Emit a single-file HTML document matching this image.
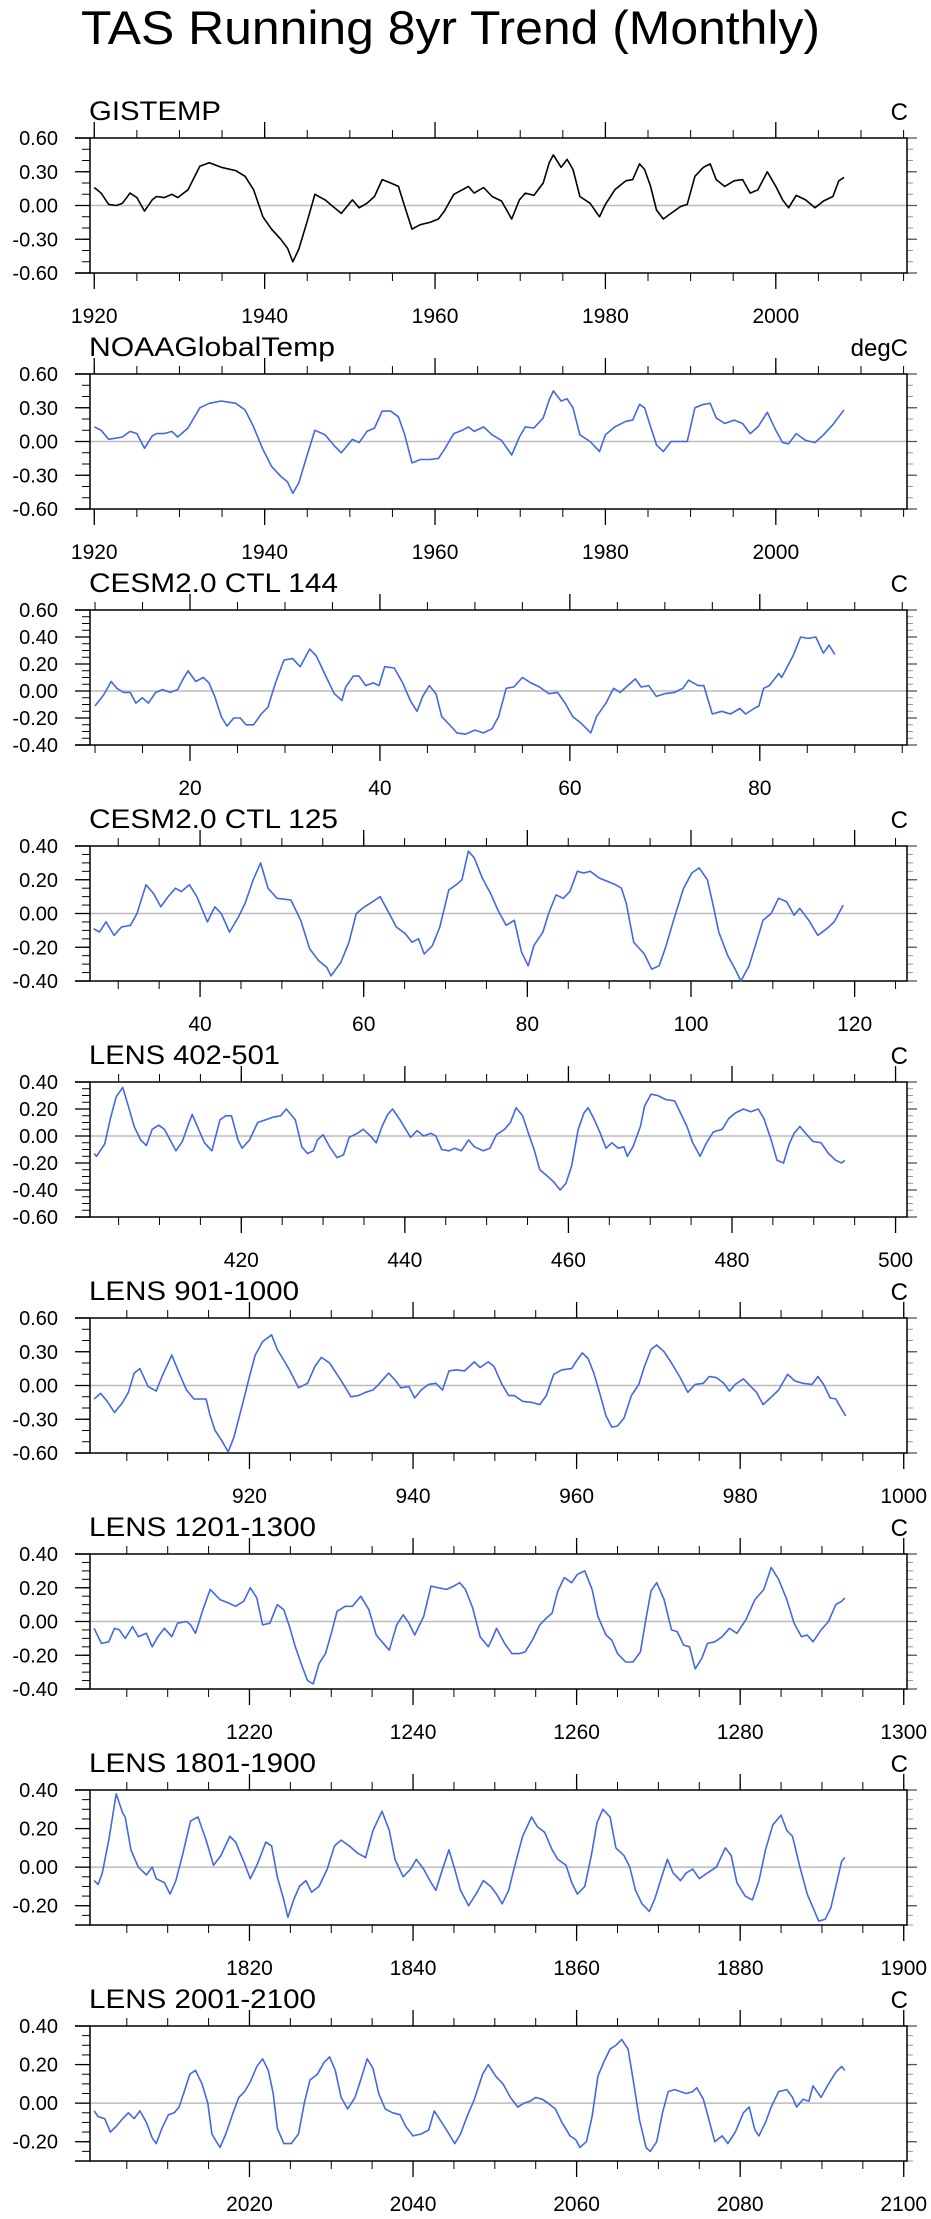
<!DOCTYPE html>
<html><head><meta charset="utf-8">
<style>
html,body{margin:0;padding:0;background:#fff;}
svg{display:block;font-family:"Liberation Sans",Arial,sans-serif;}
</style></head>
<body>
<svg id="chart" width="931" height="2219" viewBox="0 0 931 2219" xmlns="http://www.w3.org/2000/svg">
<text x="81" y="44" font-size="47" textLength="739" lengthAdjust="spacingAndGlyphs">TAS Running 8yr Trend (Monthly)</text>
</svg>
<script>
// ---------- data ----------
const gisX=[1920,1920.8,1921.7,1922.6,1923.3,1924.2,1925,1925.9,1926.8,1927.3,1928.2,1929.1,1929.8,1931,1932.4,1933.5,1934.9,1936.6,1937.7,1938.7,1939.8,1940.8,1941.9,1942.7,1943.3,1944,1945,1945.9,1947.1,1948.2,1949,1950.3,1951.1,1952,1952.9,1953.8,1954.8,1955.7,1956.4,1957.3,1958.3,1959.4,1960.4,1961.1,1962.2,1963.2,1963.9,1964.6,1965.7,1966.7,1967.8,1969,1969.9,1970.6,1971.6,1972.7,1973.4,1973.9,1974.8,1975.5,1976.2,1977,1978.2,1979.3,1980,1981.1,1982.4,1983.2,1984,1984.6,1985.3,1986,1986.8,1987.7,1988.8,1989.6,1990.5,1991.5,1992.3,1993,1994,1995.1,1996.1,1997,1997.9,1999,2000,2000.8,2001.5,2002.4,2003.5,2004.6,2005.6,2006.7,2007.4,2008];
const gisY=[0.16,0.11,0.01,0.0,0.02,0.11,0.07,-0.05,0.05,0.08,0.07,0.10,0.07,0.14,0.35,0.38,0.34,0.31,0.26,0.14,-0.10,-0.21,-0.30,-0.38,-0.50,-0.39,-0.14,0.10,0.05,-0.02,-0.07,0.05,-0.02,0.02,0.08,0.23,0.20,0.17,0.0,-0.21,-0.17,-0.15,-0.12,-0.05,0.10,0.14,0.17,0.11,0.16,0.08,0.04,-0.12,0.05,0.11,0.09,0.20,0.38,0.45,0.34,0.41,0.32,0.08,0.02,-0.10,0.01,0.14,0.22,0.23,0.37,0.32,0.17,-0.04,-0.12,-0.07,-0.01,0.01,0.26,0.34,0.37,0.23,0.17,0.22,0.23,0.11,0.14,0.30,0.17,0.05,-0.02,0.09,0.05,-0.02,0.04,0.08,0.22,0.25];
const noaaX=gisX;
const noaaY=[0.13,0.10,0.02,0.03,0.04,0.09,0.07,-0.06,0.05,0.07,0.07,0.09,0.04,0.12,0.30,0.34,0.36,0.34,0.28,0.13,-0.07,-0.22,-0.31,-0.36,-0.46,-0.37,-0.12,0.10,0.06,-0.04,-0.10,0.02,-0.01,0.09,0.12,0.27,0.27,0.22,0.07,-0.19,-0.16,-0.16,-0.15,-0.07,0.07,0.10,0.13,0.09,0.13,0.06,0.01,-0.12,0.04,0.13,0.12,0.21,0.37,0.45,0.36,0.38,0.30,0.06,0.0,-0.09,0.06,0.13,0.18,0.19,0.33,0.30,0.13,-0.03,-0.09,0.0,0.0,0.0,0.30,0.33,0.34,0.21,0.16,0.19,0.16,0.07,0.13,0.26,0.10,-0.01,-0.02,0.07,0.01,-0.01,0.06,0.15,0.22,0.28];
const c144X=[10,10.9,11.7,12.3,13,13.7,14.3,15,15.6,16.4,17.1,17.9,18.7,19.2,19.8,20.6,21.4,22,22.6,23.3,23.9,24.6,25.3,25.9,26.7,27.5,28.2,29,29.9,30.8,31.6,32.6,33.3,34.3,35.2,36,36.4,37.2,37.8,38.5,39.3,39.9,40.5,41.5,42.4,43.2,43.9,44.5,45.2,45.9,46.5,47.2,48.1,49,50,50.9,51.8,52.5,53.3,54.1,55,55.9,56.8,57.8,58.7,59.5,60.3,61.2,62.2,62.8,63.8,64.6,65.3,66.1,66.9,67.5,68.3,69.1,70,71,71.9,72.5,73.5,74.1,75,76,76.9,77.9,78.5,79.4,79.9,80.4,81,82,82.3,82.9,83.5,84.3,85.1,85.9,86.7,87.3,87.9];
const c144Y=[-0.11,-0.03,0.07,0.02,-0.01,-0.01,-0.09,-0.05,-0.09,-0.01,0.01,-0.01,0.01,0.08,0.15,0.07,0.10,0.06,-0.04,-0.19,-0.26,-0.20,-0.20,-0.25,-0.25,-0.17,-0.12,0.06,0.23,0.24,0.18,0.31,0.26,0.11,-0.02,-0.07,0.03,0.11,0.11,0.04,0.06,0.04,0.18,0.17,0.06,-0.07,-0.15,-0.04,0.04,-0.02,-0.19,-0.24,-0.31,-0.32,-0.29,-0.31,-0.28,-0.19,0.02,0.03,0.10,0.06,0.03,-0.02,-0.01,-0.09,-0.19,-0.24,-0.31,-0.19,-0.09,0.02,-0.01,0.04,0.09,0.03,0.04,-0.04,-0.02,-0.01,0.02,0.08,0.04,0.04,-0.17,-0.15,-0.17,-0.13,-0.17,-0.13,-0.11,0.02,0.04,0.13,0.10,0.18,0.26,0.40,0.39,0.40,0.28,0.34,0.27];
const c125X=[27,27.7,28.5,29.5,30.4,31.5,32.3,33.4,34.3,35.2,36.1,37,37.7,38.7,39.6,40.9,41.8,42.6,43.6,44.7,45.5,46.5,47.4,48.3,49.4,51.1,52.3,53.4,54.5,55.5,56,57.2,58.2,59.1,60.1,61.1,62,62.9,64,65.1,65.9,66.7,67.4,68.4,69.3,70.4,71.3,72,72.8,73.5,74.5,75.5,76.4,77.4,78.4,79.3,80.1,80.8,81.9,82.6,83.5,84.4,85.2,86.1,86.9,87.7,88.8,89.8,90.8,91.5,92.1,93,94.3,95.2,96.1,96.9,98,99.1,100.1,101,102,102.7,103.4,104.5,105.4,106.1,107.1,108,108.8,109.8,110.7,111.7,112.6,113.3,114.4,115.5,116.6,117.5,118.6];
const c125Y=[-0.09,-0.11,-0.05,-0.13,-0.08,-0.07,0.0,0.17,0.12,0.04,0.10,0.15,0.13,0.17,0.10,-0.05,0.04,0.0,-0.11,-0.02,0.06,0.20,0.30,0.15,0.09,0.08,-0.04,-0.21,-0.28,-0.32,-0.37,-0.29,-0.17,0.0,0.04,0.07,0.10,0.02,-0.08,-0.12,-0.17,-0.15,-0.24,-0.19,-0.08,0.14,0.17,0.20,0.37,0.33,0.21,0.12,0.02,-0.07,-0.04,-0.23,-0.31,-0.19,-0.11,0.0,0.11,0.09,0.13,0.25,0.24,0.25,0.21,0.19,0.17,0.15,0.06,-0.17,-0.24,-0.33,-0.31,-0.20,-0.02,0.15,0.24,0.27,0.20,0.05,-0.11,-0.25,-0.33,-0.40,-0.31,-0.17,-0.04,0.0,0.09,0.07,-0.01,0.03,-0.04,-0.13,-0.09,-0.05,0.05];
const l400X=[402,402.3,403.3,404,404.7,405.5,406.2,406.9,407.7,408.4,409.1,409.9,410.6,411.3,412,412.8,413.5,414,414.7,415.5,416.4,417.4,418.1,418.8,419.6,420.1,421,422,423,423.9,424.8,425.5,426.6,427.4,428.1,428.8,429.3,430,430.8,431.7,432.5,433.2,434.2,434.9,435.8,436.5,437.2,437.9,438.5,439.4,440.1,440.7,441.5,442.3,443.2,443.8,444.5,445.4,446.1,446.9,447.8,448.5,449.6,450.4,451.2,452.2,452.9,453.6,454.4,455.1,455.8,456.5,457.3,458.2,459,459.7,460.4,461.2,461.9,462.4,463.1,463.9,464.6,465.3,466.1,466.8,467.2,467.9,468.8,469.3,470.1,470.9,471.9,473,473.7,474.5,475.2,476.1,476.8,477.7,478.8,479.6,480.4,481.4,482.3,483.2,483.9,484.8,485.5,486.3,487,487.6,488.3,489,489.9,490.9,491.8,492.7,493.4,493.8];
const l400Y=[-0.13,-0.15,-0.06,0.13,0.29,0.36,0.22,0.07,-0.03,-0.07,0.05,0.08,0.05,-0.03,-0.11,-0.04,0.08,0.16,0.06,-0.05,-0.11,0.12,0.15,0.15,-0.03,-0.09,-0.03,0.10,0.12,0.14,0.15,0.20,0.12,-0.08,-0.13,-0.11,-0.03,0.01,-0.08,-0.16,-0.14,-0.01,0.02,0.05,0.0,-0.05,0.07,0.16,0.20,0.12,0.05,-0.01,0.04,0.0,0.02,0.0,-0.10,-0.11,-0.09,-0.11,-0.03,-0.08,-0.11,-0.09,0.01,0.05,0.10,0.21,0.15,0.02,-0.10,-0.25,-0.29,-0.34,-0.40,-0.35,-0.22,0.05,0.17,0.21,0.13,0.02,-0.09,-0.05,-0.09,-0.08,-0.15,-0.08,0.07,0.22,0.31,0.30,0.27,0.26,0.17,0.07,-0.05,-0.15,-0.06,0.03,0.05,0.13,0.17,0.20,0.18,0.20,0.13,-0.03,-0.18,-0.20,-0.06,0.02,0.07,0.02,-0.04,-0.05,-0.13,-0.18,-0.20,-0.18];
const l900X=[901,901.8,902.6,903.5,904.5,905.2,905.9,906.6,907.6,908.6,909.3,910.5,911.4,912.3,913.2,914.7,915.2,915.8,916.6,917.4,918.1,919.1,920,920.7,921.6,922.7,923.4,924.4,925.1,926,927.1,928,928.8,929.8,930.7,931.5,932.4,933.3,934.2,935.1,935.8,937,937.8,938.5,939.5,940.2,941,941.9,942.8,943.6,944.4,945.3,946.3,947.5,948.2,949.2,949.9,950.8,951.7,952.4,953.4,954.5,955.5,956.3,957.2,958.2,959.4,959.9,960.7,961.4,962.1,962.8,963.6,964.3,965,965.8,966.7,967.6,968.3,969.1,969.8,970.7,971.6,972.6,973.6,974.5,975.5,976.2,977.1,978,978.7,979.4,980.4,981.3,982,982.8,983.7,984.7,985.8,986.7,987.7,988.8,989.5,990.2,991,991.7,992.4,992.9];
const l900Y=[-0.12,-0.07,-0.14,-0.24,-0.15,-0.06,0.11,0.15,-0.01,-0.05,0.08,0.27,0.11,-0.04,-0.12,-0.12,-0.27,-0.40,-0.49,-0.59,-0.46,-0.18,0.08,0.27,0.39,0.45,0.32,0.20,0.11,-0.02,0.02,0.17,0.25,0.20,0.10,0.01,-0.10,-0.09,-0.06,-0.04,0.01,0.11,0.05,-0.02,-0.01,-0.11,-0.04,0.01,0.02,-0.04,0.13,0.14,0.13,0.21,0.16,0.21,0.17,0.02,-0.09,-0.09,-0.14,-0.15,-0.17,-0.09,0.10,0.14,0.15,0.21,0.29,0.24,0.11,-0.06,-0.27,-0.37,-0.36,-0.29,-0.09,0.01,0.17,0.32,0.36,0.30,0.20,0.08,-0.06,0.01,0.02,0.08,0.07,0.02,-0.05,0.01,0.06,-0.01,-0.06,-0.17,-0.11,-0.04,0.10,0.04,0.02,0.01,0.08,0.01,-0.11,-0.12,-0.21,-0.27];
const l1200X=[1201,1201.9,1202.8,1203.5,1204.1,1204.8,1205.7,1206.4,1207.4,1208.1,1208.8,1209.6,1210.5,1211.2,1212.3,1212.8,1213.4,1214.3,1215.2,1216.4,1217.4,1218.3,1219.3,1220.1,1220.9,1221.6,1222.5,1223.4,1224.2,1224.9,1225.6,1226.4,1227.1,1227.8,1228.5,1229.3,1230,1230.7,1231.7,1232.6,1233.6,1234.6,1235.5,1236.2,1237.1,1238,1238.8,1239.5,1240.2,1241.3,1242.2,1243.1,1244.1,1245,1245.7,1246.4,1247.3,1248.2,1249.2,1249.7,1250.2,1251.2,1252.1,1253,1253.7,1254.6,1255.5,1256.3,1257,1257.7,1258.5,1259.4,1260.1,1261,1261.9,1262.6,1263.6,1264.3,1265,1266,1266.9,1267.8,1268.5,1269.1,1269.8,1270.7,1271.6,1272.3,1273.1,1273.8,1274.5,1275.3,1276,1276.9,1277.8,1278.7,1279.6,1280.7,1281.8,1282.9,1283.8,1284.7,1285.7,1286.6,1287.5,1288.2,1288.9,1289.9,1290.8,1291.7,1292.4,1292.8];
const l1200Y=[-0.04,-0.13,-0.12,-0.04,-0.05,-0.10,-0.03,-0.09,-0.07,-0.15,-0.09,-0.04,-0.09,-0.01,0.0,-0.02,-0.07,0.07,0.19,0.13,0.11,0.09,0.12,0.20,0.14,-0.02,-0.01,0.10,0.07,-0.03,-0.15,-0.26,-0.35,-0.37,-0.25,-0.19,-0.07,0.06,0.09,0.09,0.15,0.07,-0.08,-0.12,-0.17,-0.02,0.04,-0.01,-0.08,0.03,0.21,0.20,0.19,0.21,0.23,0.19,0.08,-0.09,-0.15,-0.10,-0.04,-0.13,-0.19,-0.19,-0.18,-0.11,-0.02,0.02,0.05,0.18,0.26,0.23,0.28,0.30,0.19,0.03,-0.08,-0.11,-0.19,-0.24,-0.24,-0.18,0.02,0.18,0.23,0.13,-0.05,-0.06,-0.14,-0.15,-0.28,-0.22,-0.13,-0.12,-0.09,-0.04,-0.07,0.01,0.13,0.19,0.32,0.25,0.13,-0.01,-0.09,-0.08,-0.12,-0.05,0.0,0.10,0.12,0.14];
const l1800X=[1801,1801.5,1802,1802.8,1803.7,1804.5,1804.8,1805.5,1806.4,1807.4,1808.1,1808.6,1809.6,1810.3,1811,1811.8,1812.8,1813.7,1814.7,1815.6,1816.5,1817.6,1818.3,1819.3,1820.1,1821,1822,1822.7,1823.4,1824.2,1824.7,1825.4,1826.1,1826.9,1827.6,1828.5,1829.5,1830.4,1831.2,1832.2,1833.3,1834.2,1835.1,1836.2,1837.1,1837.8,1838.8,1839.7,1840.4,1841.3,1842.2,1842.8,1843.6,1844.4,1845.1,1845.8,1846.8,1847.7,1848.6,1849.5,1850.2,1850.9,1851.7,1852.4,1853.4,1854.5,1855.2,1856.1,1857,1857.7,1858.7,1859.4,1860.1,1861,1861.8,1862.5,1863.2,1864.1,1864.8,1865.8,1866.5,1867.2,1868,1868.9,1869.6,1870.4,1871.1,1871.8,1872.7,1873.4,1874.2,1875,1876,1877.1,1878.2,1878.9,1879.6,1880.6,1881.5,1882.3,1883.1,1884,1885,1885.7,1886.4,1887.3,1888.2,1888.9,1889.6,1890.4,1891.1,1891.8,1892.4,1892.8];
const l1800Y=[-0.07,-0.09,-0.03,0.14,0.38,0.28,0.26,0.09,0.0,-0.04,0.0,-0.06,-0.08,-0.14,-0.07,0.06,0.24,0.26,0.14,0.01,0.06,0.16,0.13,0.03,-0.06,0.02,0.13,0.11,-0.05,-0.17,-0.26,-0.17,-0.10,-0.07,-0.13,-0.10,-0.01,0.11,0.14,0.11,0.07,0.05,0.19,0.29,0.19,0.04,-0.05,-0.01,0.04,-0.01,-0.08,-0.12,-0.01,0.09,-0.01,-0.12,-0.20,-0.14,-0.07,-0.10,-0.14,-0.19,-0.12,0.0,0.16,0.26,0.21,0.18,0.09,0.04,0.01,-0.08,-0.14,-0.10,0.06,0.23,0.30,0.26,0.10,0.06,0.0,-0.12,-0.19,-0.23,-0.16,-0.05,0.04,-0.03,-0.07,-0.03,-0.01,-0.06,-0.03,0.0,0.10,0.06,-0.08,-0.15,-0.17,-0.07,0.09,0.22,0.27,0.19,0.16,0.0,-0.14,-0.21,-0.28,-0.27,-0.21,-0.08,0.03,0.05];
const l2000X=[2001,2001.5,2002.3,2003,2003.7,2004.5,2005.2,2005.9,2006.6,2007.4,2008.1,2008.6,2009.3,2010.1,2010.8,2011.4,2012.1,2012.7,2013.4,2014.2,2014.9,2015.4,2016.4,2017.1,2018,2018.7,2019.4,2020.1,2020.9,2021.6,2022.3,2022.9,2023.4,2024.2,2025.1,2026,2026.7,2027.4,2028.3,2029.1,2029.8,2030.5,2031.2,2032,2032.9,2033.6,2034.4,2035.1,2035.8,2036.6,2037.5,2038.4,2039.1,2040,2041,2041.9,2042.6,2043.5,2044.4,2045.1,2045.8,2046.6,2047.5,2048.5,2049.2,2050.1,2051,2051.9,2052.8,2053.6,2054.3,2055,2055.8,2056.5,2057.4,2058.2,2059.2,2059.9,2060.4,2061.2,2061.9,2062.6,2063.4,2064.1,2064.8,2065.5,2066.3,2067,2067.7,2068.5,2069,2069.8,2070.5,2071.2,2072,2072.7,2073.4,2074.2,2074.7,2075.5,2076.2,2076.9,2077.8,2078.5,2079.4,2080.4,2081.1,2081.8,2082.3,2083.1,2083.8,2084.7,2085.7,2086.4,2086.9,2087.7,2088.4,2088.9,2089.9,2090.8,2091.7,2092.4,2092.8];
const l2000Y=[-0.04,-0.07,-0.08,-0.15,-0.12,-0.08,-0.05,-0.08,-0.04,-0.10,-0.18,-0.21,-0.13,-0.06,-0.05,-0.02,0.07,0.15,0.17,0.10,0.0,-0.16,-0.23,-0.16,-0.05,0.03,0.06,0.11,0.19,0.23,0.17,0.05,-0.13,-0.21,-0.21,-0.16,0.0,0.12,0.15,0.21,0.24,0.17,0.03,-0.03,0.03,0.12,0.23,0.18,0.05,-0.03,-0.05,-0.06,-0.12,-0.17,-0.16,-0.14,-0.04,-0.10,-0.16,-0.21,-0.16,-0.07,0.02,0.15,0.20,0.14,0.10,0.03,-0.02,0.0,0.01,0.03,0.02,0.0,-0.03,-0.10,-0.17,-0.19,-0.23,-0.20,-0.07,0.14,0.22,0.28,0.30,0.33,0.28,0.10,-0.09,-0.23,-0.25,-0.20,-0.05,0.06,0.07,0.06,0.05,0.06,0.08,0.02,-0.09,-0.20,-0.17,-0.21,-0.15,-0.05,-0.02,-0.14,-0.17,-0.10,-0.02,0.06,0.07,0.03,-0.02,0.02,0.01,0.09,0.03,0.10,0.16,0.19,0.17];

const yTicksA=[-0.6,-0.3,0,0.3,0.6];
const yTicksB=[-0.4,-0.2,0,0.2,0.4,0.6];
const yTicksC=[-0.4,-0.2,0,0.2,0.4];
const yTicksD=[-0.6,-0.4,-0.2,0,0.2,0.4];
const yTicksE=[-0.2,0,0.2,0.4];
const xTicks1=[1920,1940,1960,1980,2000];
const xTicks3=[20,40,60,80];
const xTicks4=[40,60,80,100,120];
const xTicks5=[420,440,460,480,500];
const xTicks6=[920,940,960,980,1000];
const xTicks7=[1220,1240,1260,1280,1300];
const xTicks8=[1820,1840,1860,1880,1900];
const xTicks9=[2020,2040,2060,2080,2100];

const panels=[
 {name:'gistemp',title:'GISTEMP',tl:132,unit:'C',xs:gisX,ys:gisY,xmin:1919.5,xmax:2015.4,ymin:-0.6,ymax:0.6,yt:yTicksA,ym:0.1,xt:xTicks1,col:'#000'},
 {name:'noaa',title:'NOAAGlobalTemp',tl:246,unit:'degC',xs:noaaX,ys:noaaY,xmin:1919.5,xmax:2015.4,ymin:-0.6,ymax:0.6,yt:yTicksA,ym:0.1,xt:xTicks1,col:'#4169e1'},
 {name:'cesm-144',title:'CESM2.0 CTL 144',tl:249,unit:'C',xs:c144X,ys:c144Y,xmin:9.47,xmax:95.5,ymin:-0.4,ymax:0.6,yt:yTicksB,ym:0.05,xt:xTicks3,col:'#4169e1'},
 {name:'cesm-125',title:'CESM2.0 CTL 125',tl:249,unit:'C',xs:c125X,ys:c125Y,xmin:26.55,xmax:126.4,ymin:-0.4,ymax:0.4,yt:yTicksC,ym:0.05,xt:xTicks4,col:'#4169e1'},
 {name:'lens-402',title:'LENS 402-501',tl:191,unit:'C',xs:l400X,ys:l400Y,xmin:401.5,xmax:501.4,ymin:-0.6,ymax:0.4,yt:yTicksD,ym:0.05,xt:xTicks5,col:'#4169e1'},
 {name:'lens-901',title:'LENS 901-1000',tl:210,unit:'C',xs:l900X,ys:l900Y,xmin:900.5,xmax:1000.4,ymin:-0.6,ymax:0.6,yt:yTicksA,ym:0.1,xt:xTicks6,col:'#4169e1'},
 {name:'lens-1201',title:'LENS 1201-1300',tl:227,unit:'C',xs:l1200X,ys:l1200Y,xmin:1200.5,xmax:1300.4,ymin:-0.4,ymax:0.4,yt:yTicksC,ym:0.05,xt:xTicks7,col:'#4169e1'},
 {name:'lens-1801',title:'LENS 1801-1900',tl:227,unit:'C',xs:l1800X,ys:l1800Y,xmin:1800.5,xmax:1900.4,ymin:-0.3,ymax:0.4,yt:yTicksE,ym:0.05,xt:xTicks8,col:'#4169e1'},
 {name:'lens-2001',title:'LENS 2001-2100',tl:227,unit:'C',xs:l2000X,ys:l2000Y,xmin:2000.5,xmax:2100.4,ymin:-0.3,ymax:0.4,yt:yTicksE,ym:0.05,xt:xTicks9,col:'#4169e1'}
];

const NS='http://www.w3.org/2000/svg';
const svg=document.getElementById('chart');
function mk(tag,attrs,parent){const e=document.createElementNS(NS,tag);for(const k in attrs)e.setAttribute(k,attrs[k]);(parent||svg).appendChild(e);return e;}
function ln(g,x1,y1,x2,y2,c,w){return mk('line',{x1:x1,y1:y1,x2:x2,y2:y2,stroke:c,'stroke-width':w},g);}

panels.forEach((p,i)=>{
  const T=138+236*i,H=135,B=T+H,L=90,R=907;
  const sx=v=>L+(v-p.xmin)/(p.xmax-p.xmin)*(R-L);
  const sy=v=>B-(v-p.ymin)/(p.ymax-p.ymin)*H;
  const g=mk('g',{});
  
  
  const t=mk('text',{x:89,y:T-18,'font-size':27,textLength:p.tl,lengthAdjust:'spacingAndGlyphs'},g);
  t.textContent=p.title;
  
  
  const u=mk('text',{x:908,y:T-18,'font-size':24,'text-anchor':'end'},g);
  u.textContent=p.unit;
  
  
  // zero line
  const z=ln(g,L,sy(0),R,sy(0),'#bbb',1.5);
  
  
  // y minor ticks
  const n=Math.round((p.ymax-p.ymin)/p.ym);
  for(let k=0;k<=n;k++){const v=p.ymin+k*p.ym;const y=sy(v);ln(g,L-8,y,L,y,'#000',1);ln(g,R,y,R+6,y,'#999',1);}
  // y major ticks + labels
  p.yt.forEach(v=>{const y=sy(v);ln(g,L-15,y,L,y,'#000',1.3);ln(g,R,y,R+10,y,'#555',1.3);
    const tx=mk('text',{x:58,y:y+7,'font-size':20,'text-anchor':'end'},g);
    tx.textContent=v.toFixed(2);
    
    });
  // x minor ticks
  for(let v=Math.ceil(p.xmin/5)*5;v<=p.xmax;v+=5){const x=sx(v);ln(g,x,T-8,x,T,'#000',1);ln(g,x,B,x,B+8,'#000',1);}
  p.xt.forEach(v=>{const x=sx(v);ln(g,x,T-16,x,T,'#000',1.3);ln(g,x,B,x,B+16,'#000',1.3);
    const tx=mk('text',{x:x,y:B+50,'font-size':21,'text-anchor':'middle'},g);
    tx.textContent=String(v);
    
    });
  // frame
  const f=mk('rect',{x:L,y:T,width:R-L,height:H,fill:'none',stroke:'#000','stroke-width':1.5},g);
  
  
  ln(g,L-15,T,L,T,'#000',1.5);ln(g,L-15,B,L,B,'#000',1.5);
  // series
  const d=p.xs.map((x,k)=>(k?'L':'M')+sx(x).toFixed(1)+','+sy(p.ys[k]).toFixed(1)).join('');
  const pl=mk('path',{d:d,fill:'none',stroke:p.col,'stroke-width':1.6,'stroke-linejoin':'round'},g);
  
  
});
</script>
</body></html>
